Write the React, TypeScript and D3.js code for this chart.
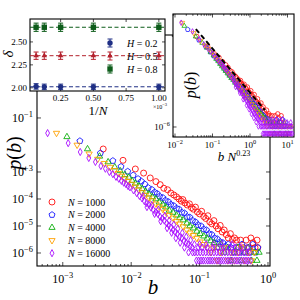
import React from "react";
import * as d3 from "d3";

// system sizes and styles of the five main series
const sizes = [1000, 2000, 4000, 8000, 16000];
const sizeLabels = ["1000", "2000", "4000", "8000", "16000"];
const seriesColors = ["#ff1010", "#1a1aff", "#10b010", "#ffa000", "#a80cff"];
const seriesShapes = ["circle", "pentagon", "triangle", "triangleDown", "diamond"];

// p(b) histograms, pairs of [b, p(b)]
const pN1000: [number, number][] = [
  [3.9e-3, 7.1e-3], [7.6e-3, 2.7e-3], [1.15e-2, 1.29e-3], [1.52e-2, 9.1e-4], [1.9e-2, 6.0e-4],
  [2.3e-2, 4.4e-4], [2.65e-2, 3.4e-4], [3.0e-2, 2.5e-4], [3.4e-2, 2.2e-4], [3.8e-2, 1.66e-4],
  [4.2e-2, 1.41e-4], [4.6e-2, 1.2e-4], [5.0e-2, 1.0e-4], [5.4e-2, 8.3e-5], [5.7e-2, 9.5e-5],
  [6.1e-2, 7.1e-5], [6.6e-2, 6.0e-5], [7.1e-2, 6.6e-5], [7.6e-2, 4.8e-5], [8.1e-2, 4.2e-5],
  [8.7e-2, 5.0e-5], [9.3e-2, 3.3e-5], [0.1, 2.8e-5], [0.107, 3.5e-5], [0.115, 2.24e-5],
  [0.123, 1.9e-5], [0.132, 2.4e-5], [0.141, 1.41e-5], [0.151, 1.2e-5], [0.162, 1.58e-5],
  [0.174, 1.0e-5], [0.186, 7.9e-6], [0.2, 1.05e-5], [0.214, 6.0e-6], [0.229, 7.1e-6],
  [0.245, 4.8e-6], [0.263, 3.6e-6], [0.282, 5.2e-6], [0.302, 3.16e-6], [0.324, 3.6e-6],
  [0.347, 3.0e-6], [0.372, 1.58e-6], [0.398, 3.0e-6], [0.437, 1.58e-6], [0.479, 3.0e-6],
  [0.525, 1.58e-6], [0.562, 3.6e-6], [0.603, 2.4e-6], [0.646, 1.58e-6], [0.692, 3.0e-6],
  [0.708, 1.58e-6],
];
const pN2000: [number, number][] = [
  [1.78e-3, 1.41e-2], [3.55e-3, 5.0e-3], [5.4e-3, 2.6e-3], [7.1e-3, 1.58e-3], [8.9e-3, 1.05e-3],
  [1.07e-2, 7.6e-4], [1.26e-2, 5.6e-4], [1.41e-2, 4.5e-4], [1.58e-2, 3.55e-4], [1.78e-2, 2.6e-4],
  [2.0e-2, 2.24e-4], [2.2e-2, 1.78e-4], [2.4e-2, 1.58e-4], [2.6e-2, 1.26e-4], [2.9e-2, 1.12e-4],
  [3.16e-2, 8.9e-5], [3.5e-2, 7.9e-5], [3.8e-2, 6.3e-5], [4.2e-2, 5.6e-5], [4.6e-2, 4.5e-5],
  [5.0e-2, 4.2e-5], [5.5e-2, 3.2e-5], [6.0e-2, 3.0e-5], [6.6e-2, 2.2e-5], [7.2e-2, 2.1e-5],
  [7.9e-2, 1.6e-5], [8.7e-2, 1.41e-5], [9.5e-2, 1.1e-5], [0.105, 1.0e-5], [0.115, 7.6e-6],
  [0.126, 7.1e-6], [0.138, 5.2e-6], [0.151, 4.8e-6], [0.166, 3.6e-6], [0.182, 3.3e-6],
  [0.2, 2.6e-6], [0.219, 2.4e-6], [0.24, 1.78e-6], [0.263, 2.1e-6], [0.288, 1.58e-6],
  [0.316, 1.05e-6], [0.347, 1.58e-6], [0.38, 1.05e-6], [0.417, 2.1e-6], [0.457, 1.05e-6],
  [0.5, 1.58e-6], [0.55, 1.05e-6], [0.6, 2.1e-6], [0.66, 1.05e-6], [0.71, 1.58e-6],
];
const pN4000: [number, number][] = [
  [1.15e-3, 2.0e-2], [2.3e-3, 7.1e-3], [3.45e-3, 3.8e-3], [4.6e-3, 2.34e-3], [5.75e-3, 1.51e-3],
  [6.9e-3, 1.1e-3], [8.1e-3, 7.9e-4], [9.2e-3, 6.3e-4], [1.03e-2, 4.8e-4], [1.15e-2, 3.8e-4],
  [1.3e-2, 3.0e-4], [1.45e-2, 2.4e-4], [1.62e-2, 1.9e-4], [1.82e-2, 1.51e-4], [2.04e-2, 1.2e-4],
  [2.3e-2, 1.0e-4], [2.57e-2, 7.6e-5], [2.9e-2, 6.3e-5], [3.2e-2, 5.0e-5], [3.6e-2, 3.8e-5],
  [4.1e-2, 3.16e-5], [4.6e-2, 2.5e-5], [5.1e-2, 2.0e-5], [5.75e-2, 1.66e-5], [6.5e-2, 1.26e-5],
  [7.2e-2, 1.0e-5], [8.1e-2, 8.3e-6], [9.1e-2, 6.3e-6], [0.102, 5.2e-6], [0.115, 4.2e-6],
  [0.129, 3.5e-6], [0.145, 2.8e-6], [0.162, 2.4e-6], [0.182, 1.58e-6], [0.204, 2.1e-6],
  [0.229, 1.05e-6], [0.257, 1.58e-6], [0.288, 5.25e-7], [0.324, 1.05e-6], [0.363, 1.58e-6],
  [0.407, 5.25e-7], [0.457, 1.05e-6], [0.513, 1.58e-6], [0.575, 5.25e-7], [0.63, 1.05e-6],
  [0.69, 5.25e-7], [0.74, 1.05e-6],
];
const pN8000: [number, number][] = [
  [8.1e-4, 2.75e-2], [1.62e-3, 1.0e-2], [2.43e-3, 4.7e-3], [3.24e-3, 3.0e-3], [4.05e-3, 2.1e-3],
  [4.9e-3, 1.51e-3], [5.7e-3, 1.15e-3], [6.5e-3, 8.9e-4], [7.3e-3, 7.1e-4], [8.1e-3, 5.6e-4],
  [9.1e-3, 4.5e-4], [1.02e-2, 3.55e-4], [1.15e-2, 2.8e-4], [1.29e-2, 2.2e-4], [1.45e-2, 1.74e-4],
  [1.62e-2, 1.38e-4], [1.82e-2, 1.1e-4], [2.04e-2, 8.7e-5], [2.3e-2, 6.6e-5], [2.57e-2, 5.2e-5],
  [2.9e-2, 4.2e-5], [3.2e-2, 3.3e-5], [3.6e-2, 2.5e-5], [4.1e-2, 2.0e-5], [4.6e-2, 1.51e-5],
  [5.1e-2, 1.2e-5], [5.75e-2, 9.5e-6], [6.5e-2, 7.2e-6], [7.2e-2, 5.6e-6], [8.1e-2, 4.5e-6],
  [9.1e-2, 3.55e-6], [0.102, 2.6e-6], [0.115, 2.1e-6], [0.129, 1.58e-6], [0.145, 1.05e-6],
  [0.162, 1.58e-6], [0.182, 5.25e-7], [0.204, 1.05e-6], [0.229, 1.58e-6], [0.257, 5.25e-7],
  [0.288, 1.05e-6], [0.324, 5.25e-7], [0.363, 1.05e-6], [0.407, 1.58e-6], [0.457, 5.25e-7],
  [0.513, 1.05e-6], [0.575, 5.25e-7], [0.63, 1.05e-6],
];
const pN16000: [number, number][] = [
  [6.0e-4, 2.75e-2], [1.2e-3, 1.17e-2], [1.8e-3, 5.5e-3], [2.4e-3, 3.3e-3], [3.0e-3, 2.35e-3],
  [3.6e-3, 1.66e-3], [4.2e-3, 1.32e-3], [4.8e-3, 1.0e-3], [5.4e-3, 8.3e-4], [6.0e-3, 6.6e-4],
  [6.6e-3, 5.6e-4], [7.2e-3, 4.7e-4], [7.8e-3, 4.0e-4], [8.4e-3, 3.55e-4], [9.0e-3, 3.0e-4],
  [9.6e-3, 2.7e-4], [1.08e-2, 2.1e-4], [1.2e-2, 1.66e-4], [1.32e-2, 1.3e-4], [1.44e-2, 1.05e-4],
  [1.5e-2, 1.26e-4], [1.56e-2, 8.3e-5], [1.68e-2, 7.1e-5], [1.7e-2, 5.0e-5], [1.8e-2, 6.3e-5],
  [1.95e-2, 4.8e-5], [2.0e-2, 6.0e-5], [2.1e-2, 4.0e-5], [2.2e-2, 2.8e-5], [2.3e-2, 3.3e-5],
  [2.45e-2, 2.8e-5], [2.5e-2, 4.0e-5], [2.65e-2, 2.2e-5], [2.7e-2, 1.5e-5], [2.85e-2, 1.9e-5],
  [3.05e-2, 1.58e-5], [3.1e-2, 2.4e-5], [3.3e-2, 1.26e-5], [3.35e-2, 8.3e-6], [3.55e-2, 1.05e-5],
  [3.6e-2, 1.58e-5], [3.8e-2, 8.9e-6], [3.9e-2, 5.6e-6], [4.1e-2, 7.1e-6], [4.2e-2, 1.12e-5],
  [4.4e-2, 6.0e-6], [4.5e-2, 3.55e-6], [4.75e-2, 5.0e-6], [4.8e-2, 7.9e-6], [5.1e-2, 4.0e-6],
  [5.2e-2, 2.4e-6], [5.5e-2, 3.55e-6], [5.6e-2, 5.6e-6], [5.9e-2, 2.8e-6], [6.0e-2, 1.58e-6],
  [6.35e-2, 2.4e-6], [6.4e-2, 4.0e-6], [6.8e-2, 2.1e-6], [6.9e-2, 1.05e-6], [7.3e-2, 1.78e-6],
  [7.4e-2, 3.0e-6], [7.8e-2, 1.58e-6], [7.9e-2, 1.05e-6], [8.4e-2, 2.1e-6], [8.5e-2, 1.05e-6],
  // single counts
  [0.09, 5.25e-7], [0.097, 5.25e-7], [0.105, 5.25e-7], [0.113, 5.25e-7], [0.122, 5.25e-7],
  [0.132, 5.25e-7], [0.142, 5.25e-7], [0.153, 5.25e-7], [0.165, 5.25e-7], [0.178, 5.25e-7],
  [0.192, 5.25e-7], [0.207, 5.25e-7], [0.223, 5.25e-7], [0.24, 5.25e-7], [0.26, 5.25e-7],
  [0.28, 5.25e-7], [0.302, 5.25e-7], [0.326, 5.25e-7], [0.352, 5.25e-7], [0.38, 5.25e-7],
  [0.41, 5.25e-7], [0.442, 5.25e-7], [0.477, 5.25e-7], [0.515, 5.25e-7], [0.555, 5.25e-7],
  // double counts
  [0.093, 1.05e-6], [0.102, 1.05e-6], [0.112, 1.05e-6], [0.123, 1.05e-6], [0.135, 1.05e-6],
  [0.148, 1.05e-6], [0.162, 1.05e-6], [0.178, 1.05e-6], [0.195, 1.05e-6], [0.214, 1.05e-6],
  [0.235, 1.05e-6], [0.258, 1.05e-6], [0.283, 1.05e-6], [0.31, 1.05e-6], [0.34, 1.05e-6],
  [0.373, 1.05e-6], [0.41, 1.05e-6], [0.45, 1.05e-6], [0.495, 1.05e-6], [0.54, 1.05e-6],
  [0.095, 1.58e-6], [0.11, 1.58e-6], [0.13, 1.58e-6], [0.155, 1.58e-6], [0.185, 1.58e-6],
  [0.22, 1.58e-6], [0.27, 1.58e-6], [0.33, 1.58e-6], [0.4, 1.58e-6], [0.5, 1.58e-6],
  [0.1, 2.1e-6], [0.125, 2.1e-6], [0.16, 2.1e-6], [0.21, 2.1e-6], [0.3, 2.1e-6],
];

// inset 1: exponent delta vs 1/N (x 10^-3)
const invN = [1, 0.5, 0.25, 0.125, 0.0625];
const deltaH02 = [2.01, 2.01, 2.01, 2.01, 2.015];
const deltaH05 = [2.35, 2.35, 2.35, 2.35, 2.35];
const deltaH08 = [2.66, 2.66, 2.66, 2.66, 2.66];
const errH02 = [0.03, 0.03, 0.03, 0.03, 0.03];
const errH05 = [0.04, 0.04, 0.04, 0.04, 0.04];
const errH08 = [0.045, 0.045, 0.045, 0.045, 0.045];
const hLabels = ["0.2", "0.5", "0.8"];
const hColors = ["#1f2f85", "#b3202c", "#0d5c1a"];
const hShapes = ["circle", "triangle", "square"];

// inset 2: collapse, with guide line
const collapseExponent = 0.33;
const guideLine: [number, number][] = [[0.036, 0.0148], [2.5, 5.2e-6]];

function markerPath(shape: string, r: number): string {
  const poly = (angles: number[], rr: number) =>
    "M" + angles.map((a) => {
      const t = (a * Math.PI) / 180;
      return [rr * Math.cos(t), rr * Math.sin(t)].map((v) => v.toFixed(2)).join(",");
    }).join("L") + "Z";
  switch (shape) {
    case "circle":
      return d3.symbol(d3.symbolCircle, Math.PI * r * r)() as string;
    case "pentagon":
      return poly([-90, -18, 54, 126, 198], r * 1.05);
    case "triangle":
      return poly([-90, 30, 150], r * 1.2);
    case "triangleDown":
      return poly([90, 210, 330], r * 1.2);
    case "square":
      return `M${-r},${-r}H${r}V${r}H${-r}Z`;
    default:
      return `M0,${-r * 1.2}L${r * 0.65},0L0,${r * 1.2}L${-r * 0.65},0Z`;
  }
}

const Pow = ({ x, y, e, size, anchor = "middle" }: { x: number; y: number; e: number; size: number; anchor?: string }) => (
  <text x={x} y={y} fontSize={size} textAnchor={anchor}>
    10
    <tspan dy={-size * 0.42} fontSize={size * 0.7}>{e < 0 ? "\u2212" + -e : String(e)}</tspan>
  </text>
);

const isMajor = (t: number) => Math.abs(Math.log10(t) - Math.round(Math.log10(t))) < 1e-6;

export default function App() {
  const x = d3.scaleLog().domain([4.2e-4, 1.07]).range([37, 270]);
  const y = d3.scaleLog().domain([3.3e-7, 118]).range([266, 35]);
  const xi1 = d3.scaleLinear().domain([0.016, 1.047]).range([30, 165]);
  const yi1 = d3.scaleLinear().domain([1.965, 2.75]).range([91, 19]);
  const xi2 = d3.scaleLog().domain([8.85e-3, 14.9]).range([173, 294]);
  const yi2 = d3.scaleLog().domain([3.75e-7, 0.0646]).range([137, 14]);

  const mainSeries = [pN1000, pN2000, pN4000, pN8000, pN16000];
  const deltas = [deltaH02, deltaH05, deltaH08];
  const errs = [errH02, errH05, errH08];
  const mainYTicks = [1e-1, 1e-3, 1e-4, 1e-5, 1e-6];
  const guide = d3.line<[number, number]>().x((d) => xi2(d[0])).y((d) => yi2(d[1]));

  return (
    <svg width={300} height={300} style={{ position: "absolute", left: 0, top: 0 }}
      fontFamily="'Liberation Serif', 'DejaVu Serif', serif">
      <rect width={300} height={300} fill="white" />

      {/* main axes */}
      <rect x={37} y={35} width={233} height={231} fill="none" stroke="black" strokeWidth={1.1} />
      <g stroke="black" strokeWidth={0.7}>
        {x.ticks().map((t, i) => {
          const L = isMajor(t) ? 4 : 2;
          return (
            <g key={i}>
              <line x1={x(t)} x2={x(t)} y1={266} y2={266 - L} />
              <line x1={x(t)} x2={x(t)} y1={35} y2={35 + L} />
            </g>
          );
        })}
        {mainYTicks.map((t, i) => (
          <g key={i}>
            <line x1={37} x2={41} y1={y(t)} y2={y(t)} />
            <line x1={270} x2={266} y1={y(t)} y2={y(t)} />
          </g>
        ))}
      </g>
      {x.ticks().filter(isMajor).map((t, i) => (
        <Pow key={i} x={x(t)} y={283} e={Math.round(Math.log10(t))} size={12} />
      ))}
      {mainYTicks.map((t, i) => (
        <Pow key={i} x={33} y={y(t) + 4} e={Math.round(Math.log10(t))} size={12} anchor="end" />
      ))}
      <text x={153} y={294} fontSize={21} fontStyle="italic" textAnchor="middle">b</text>
      <text transform="translate(21,153) rotate(-90)" fontSize={20} textAnchor="middle">
        <tspan fontStyle="italic">p</tspan>(<tspan fontStyle="italic">b</tspan>)
      </text>

      {mainSeries.map((s, i) => (
        <g key={i} fill="none" stroke={seriesColors[i]} strokeWidth={0.9}>
          {s.map(([b, p], j) => (
            <path key={j} d={markerPath(seriesShapes[i], 3)} transform={`translate(${x(b)},${y(p)})`} />
          ))}
        </g>
      ))}

      {/* legend */}
      {sizeLabels.map((lab, i) => (
        <g key={i} transform={`translate(52,${202 + i * 12.8})`}>
          <path d={markerPath(seriesShapes[i], 3)} fill="none" stroke={seriesColors[i]} strokeWidth={0.9} />
          <text x={16} y={3.5} fontSize={10}>
            <tspan fontStyle="italic">N</tspan> = {lab}
          </text>
        </g>
      ))}

      {/* inset 1 */}
      <rect x={30} y={19} width={135} height={72} fill="white" stroke="black" strokeWidth={1.1} />
      <g stroke="black" strokeWidth={0.7}>
        {[0.25, 0.5, 0.75, 1].map((t, i) => (
          <g key={i}>
            <line x1={xi1(t)} x2={xi1(t)} y1={91} y2={88} />
            <line x1={xi1(t)} x2={xi1(t)} y1={19} y2={22} />
          </g>
        ))}
        {[2, 2.25, 2.5].map((t, i) => (
          <g key={i}>
            <line x1={30} x2={33} y1={yi1(t)} y2={yi1(t)} />
            <line x1={165} x2={162} y1={yi1(t)} y2={yi1(t)} />
          </g>
        ))}
      </g>
      {[0.25, 0.5, 0.75, 1].map((t, i) => (
        <text key={i} x={xi1(t)} y={101} fontSize={9} textAnchor="middle">{t.toFixed(2)}</text>
      ))}
      {[2, 2.25, 2.5].map((t, i) => (
        <text key={i} x={27} y={yi1(t) + 3} fontSize={9} textAnchor="end">{t.toFixed(2)}</text>
      ))}
      <text x={160} y={108.5} fontSize={6} textAnchor="middle">
        ×10<tspan dy={-2.5} fontSize={4.5}>−3</tspan>
      </text>
      <text x={98} y={115} fontSize={13} textAnchor="middle">
        1/<tspan fontStyle="italic">N</tspan>
      </text>
      <text transform="translate(13,54) rotate(-90)" fontSize={15} fontStyle="italic" textAnchor="middle">δ</text>
      {deltas.map((vals, k) => {
        const mean = d3.mean(vals) as number;
        return (
          <g key={k} stroke={hColors[k]} fill={hColors[k]}>
            <line x1={30} x2={165} y1={yi1(mean)} y2={yi1(mean)} strokeDasharray="4,2.5" strokeWidth={1} />
            {vals.map((v, j) => (
              <g key={j} transform={`translate(${xi1(invN[j])},${yi1(v)})`}>
                <line y1={yi1(v - errs[k][j]) - yi1(v)} y2={yi1(v + errs[k][j]) - yi1(v)} strokeWidth={1} />
                <line x1={-2.5} x2={2.5} y1={yi1(v - errs[k][j]) - yi1(v)} y2={yi1(v - errs[k][j]) - yi1(v)} strokeWidth={1} />
                <line x1={-2.5} x2={2.5} y1={yi1(v + errs[k][j]) - yi1(v)} y2={yi1(v + errs[k][j]) - yi1(v)} strokeWidth={1} />
                <path d={markerPath(hShapes[k], 2.7)} stroke="none" />
              </g>
            ))}
          </g>
        );
      })}
      {hLabels.map((lab, k) => (
        <g key={k} transform={`translate(110,${43 + k * 13})`}>
          <g stroke={hColors[k]} fill={hColors[k]}>
            <line y1={-4} y2={4} strokeWidth={1} />
            <line x1={-2.5} x2={2.5} y1={-4} y2={-4} strokeWidth={1} />
            <line x1={-2.5} x2={2.5} y1={4} y2={4} strokeWidth={1} />
            <path d={markerPath(hShapes[k], 2.7)} stroke="none" />
          </g>
          <text x={17} y={3.5} fontSize={10}>
            <tspan fontStyle="italic">H</tspan> = {lab}
          </text>
        </g>
      ))}

      {/* inset 2 */}
      <rect x={173} y={14} width={121} height={123} fill="white" stroke="black" strokeWidth={1.1} />
      <g stroke="black" strokeWidth={0.7}>
        {xi2.ticks().map((t, i) => {
          const L = isMajor(t) ? 3.5 : 1.8;
          return (
            <g key={i}>
              <line x1={xi2(t)} x2={xi2(t)} y1={137} y2={137 - L} />
              <line x1={xi2(t)} x2={xi2(t)} y1={14} y2={14 + L} />
            </g>
          );
        })}
        <line x1={173} x2={176.5} y1={yi2(1e-6)} y2={yi2(1e-6)} />
        <line x1={294} x2={290.5} y1={yi2(1e-6)} y2={yi2(1e-6)} />
      </g>
      {xi2.ticks().filter(isMajor).map((t, i) => (
        <Pow key={i} x={xi2(t)} y={148} e={Math.round(Math.log10(t))} size={9} />
      ))}
      <Pow x={170} y={yi2(1e-6) + 3} e={-6} size={9} anchor="end" />
      <text x={234} y={161} fontSize={13} textAnchor="middle">
        <tspan fontStyle="italic">b</tspan> <tspan fontStyle="italic">N</tspan>
        <tspan dy={-5} fontSize={8}>0.23</tspan>
      </text>
      <text transform="translate(196,85) rotate(-90)" fontSize={16} textAnchor="middle">
        <tspan fontStyle="italic">p</tspan>(<tspan fontStyle="italic">b</tspan>)
      </text>
      {mainSeries.map((s, i) => (
        <g key={i} fill="none" stroke={seriesColors[i]} strokeWidth={0.8}>
          {s.map(([b, p], j) => (
            <path key={j} d={markerPath(seriesShapes[i], 2.3)}
              transform={`translate(${xi2(b * Math.pow(sizes[i], collapseExponent))},${yi2(p)})`} />
          ))}
        </g>
      ))}
      <path d={guide(guideLine) as string} fill="none" stroke="black" strokeWidth={2} strokeDasharray="5,3" />
    </svg>
  );
}
